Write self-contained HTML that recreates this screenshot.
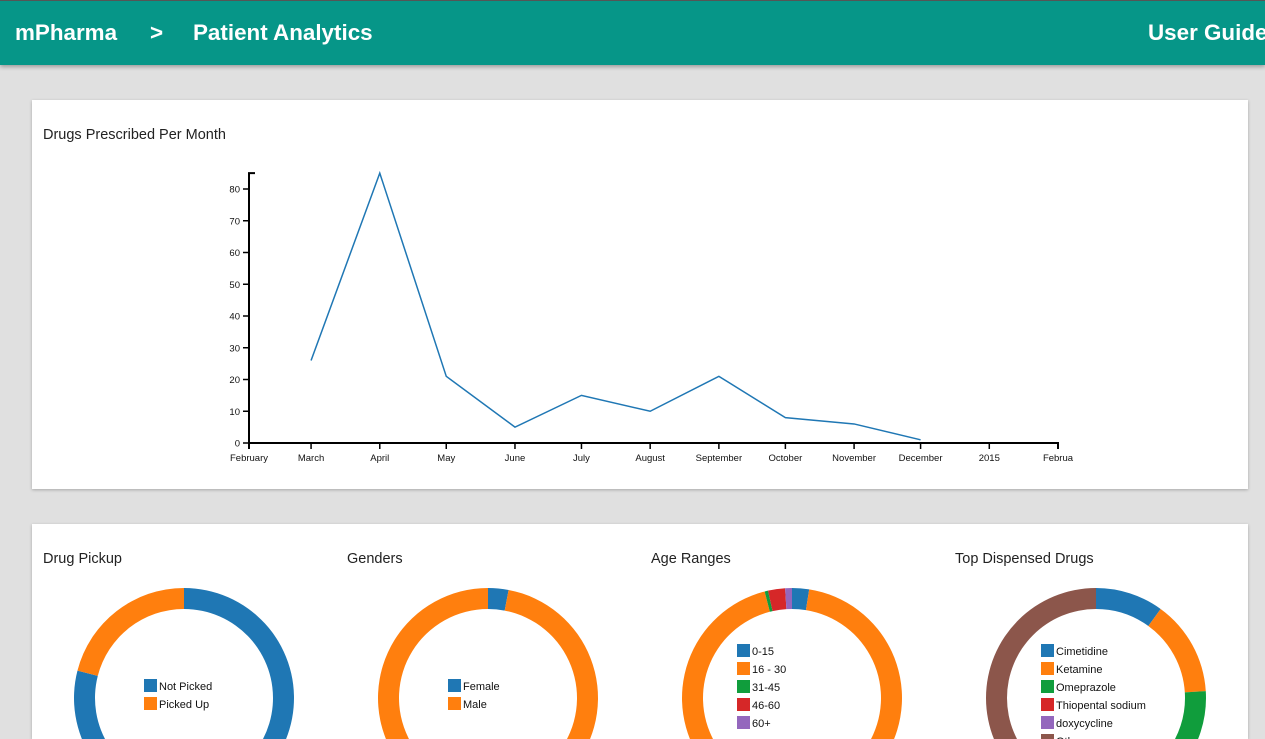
<!DOCTYPE html>
<html><head><meta charset="utf-8"><style>
html,body{margin:0;width:1265px;height:739px;overflow:hidden}
body{background:#e0e0e0;font-family:"Liberation Sans",sans-serif;position:relative}
.hdr{position:absolute;left:0;top:0;width:1265px;height:65px;background:#069688;border-top:1px solid #555;box-sizing:border-box;box-shadow:0 2px 4px rgba(0,0,0,.3);color:#fff;font-size:22.4px;font-weight:bold;overflow:hidden}
.hdr span{position:absolute;top:19px;white-space:nowrap}
.card{position:absolute;background:#fff;box-shadow:0 1px 3px rgba(0,0,0,.25)}
.t{position:absolute;font-size:14.5px;color:#222}
</style></head><body>
<div class="hdr">
<span style="left:15px">mPharma</span>
<span style="left:150px">&gt;</span>
<span style="left:193px">Patient Analytics</span>
<span style="left:1148px">User Guide</span>
</div>
<div class="card" style="left:32px;top:100px;width:1216px;height:389px">
<div class="t" style="left:11px;top:27px">Drugs Prescribed Per Month</div>
</div>
<svg id="line" style="position:absolute;left:0;top:0" width="1265" height="500"></svg>
<div class="card" style="left:32px;top:524px;width:1216px;height:215px">
<div class="t" style="left:11px;top:27px">Drug Pickup</div>
<div class="t" style="left:315px;top:27px">Genders</div>
<div class="t" style="left:619px;top:27px">Age Ranges</div>
<div class="t" style="left:923px;top:27px">Top Dispensed Drugs</div>
</div>
<svg id="donuts" style="position:absolute;left:0;top:0" width="1265" height="739"></svg>
<script>
const months=["2014-03-01","2014-04-01","2014-05-01","2014-06-01","2014-07-01","2014-08-01","2014-09-01","2014-10-01","2014-11-01","2014-12-01"];
const counts=[26,85,21,5,15,10,21,8,6,1];
const yTicks=[0,10,20,30,40,50,60,70,80];
const xTickDates=["2014-02-01","2014-03-01","2014-04-01","2014-05-01","2014-06-01","2014-07-01","2014-08-01","2014-09-01","2014-10-01","2014-11-01","2014-12-01","2015-01-01","2015-02-01"];
const xTickLabels=["February","March","April","May","June","July","August","September","October","November","December","2015","Februa"];
const pickupLabels=["Not Picked","Picked Up"],pickupValues=[79,21];
const genderLabels=["Female","Male"],genderValues=[3,97];
const ageLabels=["0-15","16 - 30","31-45","46-60","60+"],ageValues=[2.5,93.5,0.5,2.5,1];
const drugLabels=["Cimetidine","Ketamine","Omeprazole","Thiopental sodium","doxycycline","Others"],drugValues=[10,14,12,8,6,50];
const NS="http://www.w3.org/2000/svg";
const colors=["#1f77b4","#ff7f0e","#109d3c","#d62728","#9467bd","#8c564b"];
function mk(p,tag,a){const e=document.createElementNS(NS,tag);for(const k in a)e.setAttribute(k,a[k]);p.appendChild(e);return e;}
const t0=Date.parse("2014-02-01"),t1=Date.parse("2015-02-01");
const X=d=>249+(Date.parse(d)-t0)/(t1-t0)*809;
const Y=v=>443-v*3.175;
const L=document.getElementById("line");
let ya=mk(L,"path",{d:"M255,"+Y(85)+"H249V443",fill:"none",stroke:"#000","stroke-width":2});

let xa=mk(L,"path",{d:"M249,449V443H1058V449",fill:"none",stroke:"#000","stroke-width":2});

yTicks.forEach(v=>{mk(L,"line",{x1:243,x2:249,y1:Y(v),y2:Y(v),stroke:"#000","stroke-width":1.5});
let t=mk(L,"text",{x:240,y:Y(v)+3.5,"text-anchor":"end","font-size":"9.5",fill:"#111"});t.textContent=v;
});
xTickDates.forEach((d,i)=>{mk(L,"line",{x1:X(d),x2:X(d),y1:443,y2:449,stroke:"#000","stroke-width":1.5});
let t=mk(L,"text",{x:X(d),y:461,"text-anchor":"middle","font-size":"9.5",fill:"#111"});t.textContent=xTickLabels[i];
});
let ln=mk(L,"path",{d:months.map((m,i)=>(i?"L":"M")+X(m)+","+Y(counts[i])).join(""),fill:"none",stroke:"#1f77b4","stroke-width":1.5});

const D=document.getElementById("donuts");
function donut(cx,labels,values,name){const cy=698,R=110,r=89;const tot=values.reduce((a,b)=>a+b,0);let a=0;
const many=labels.length>2;
values.forEach((v,i)=>{const a0=a/tot*2*Math.PI,a1=(a+v)/tot*2*Math.PI;a+=v;const lg=a1-a0>Math.PI?1:0;
const p=(rad,an)=>(cx+rad*Math.sin(an))+","+(cy-rad*Math.cos(an));
let s=mk(D,"path",{d:"M"+p(R,a0)+"A"+R+","+R+" 0 "+lg+" 1 "+p(R,a1)+"L"+p(r,a1)+"A"+r+","+r+" 0 "+lg+" 0 "+p(r,a0)+"Z",fill:colors[i]});

const ly=(many?644:679)+i*18;const lx=cx-(many?55:40);
let rc=mk(D,"rect",{x:lx,y:ly,width:13,height:13,fill:colors[i]});

let t=mk(D,"text",{x:lx+15,y:ly+11,"font-size":"11",fill:"#111"});t.textContent=labels[i];
});}
donut(184,pickupLabels,pickupValues,"pickup");
donut(488,genderLabels,genderValues,"gender");
donut(792,ageLabels,ageValues,"age");
donut(1096,drugLabels,drugValues,"drug");
</script>
</body></html>
